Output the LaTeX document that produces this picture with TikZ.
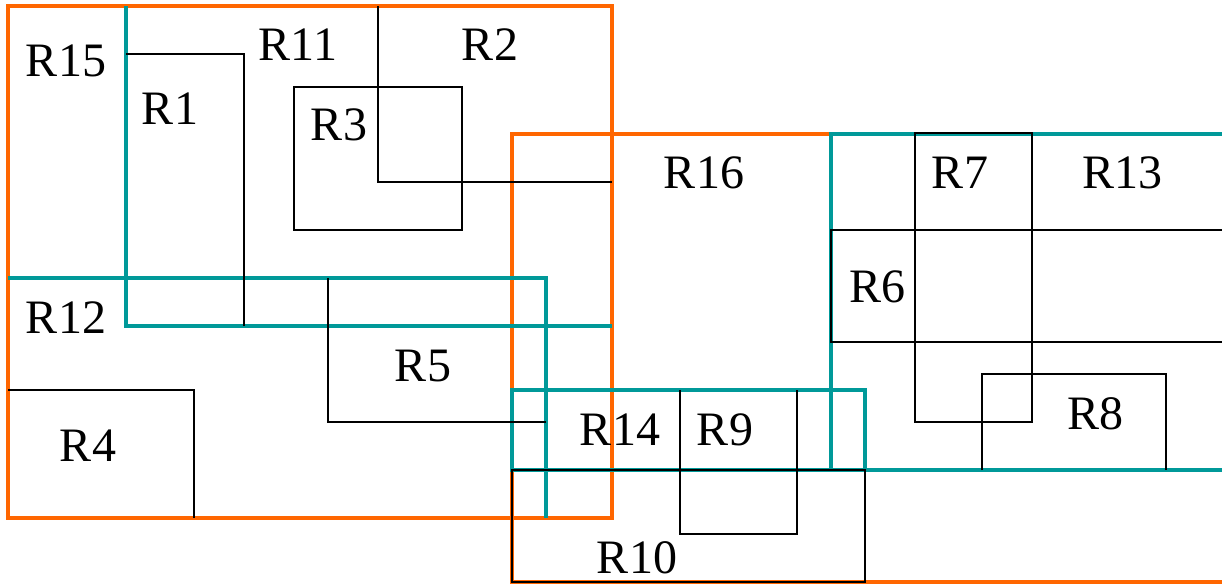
\documentclass[tikz,border=0pt]{standalone}
\usepackage{fontspec}
\setmainfont{Liberation Serif}
\definecolor{mborange}{RGB}{255,102,0}
\definecolor{mbteal}{RGB}{0,153,153}

\begin{document}
\begin{tikzpicture}[x=0.5pt, y=-0.5pt]
			\tikzstyle{every node}=[anchor=base, inner sep=0pt, font=\fontsize{24}{29}\selectfont]
			\tikzstyle{mbrA}=[draw=mborange, line width=2pt]
			\tikzstyle{mbrB}=[draw=mbteal, line width=1.8pt]
			\tikzstyle{leaf}=[draw=black, line width=1pt]
				\useasboundingbox (0,0) rectangle (1222,584);

				% outer bounding boxes
				\draw[mbrA] (8,6) rectangle (612,518);
				\draw[mbrA] (1240,582) -- (512,582) -- (512,134) -- (1240,134);

				% middle level
				\draw[mbrB] (126,6) -- (126,326) -- (612,326);
				\draw[mbrB] (8,278) -- (546,278) -- (546,518);
				\draw[mbrB] (1240,134) -- (831,134) -- (831,470) -- (1240,470);
				\draw[mbrB] (512,390) rectangle (865,470);

				% data rectangles
				\draw[leaf] (126,54) -- (244,54) -- (244,326);
				\draw[leaf] (378,6) -- (378,182) -- (612,182);
				\draw[leaf] (294,87) rectangle (462,230);
				\draw[leaf] (8,390) -- (194,390) -- (194,518);
				\draw[leaf] (328,278) -- (328,422) -- (546,422);
				\draw[leaf] (1240,230) -- (831,230) -- (831,342) -- (1240,342);
				\draw[leaf] (915,133) rectangle (1032,422);
				\draw[leaf] (982,470) -- (982,374) -- (1166,374) -- (1166,470);
				\draw[leaf] (680,390) -- (680,534) -- (797,534) -- (797,390);
				\draw[leaf] (512,470) rectangle (865,582);

				\node (r15) at (66,76) {R15};
				\node (r11) at (298,60) {R11};
				\node (r2) at (490,60) {R2};
				\node (r1) at (170,124) {R1};
				\node (r3) at (339,140) {R3};
				\node (r12) at (66,333) {R12};
				\node (r5) at (423,381) {R5};
				\node (r4) at (88,461) {R4};
				\node (r16) at (704,188) {R16};
				\node (r7) at (960,188) {R7};
				\node (r13) at (1122,188) {R13};
				\node (r6) at (877,302) {R6};
				\node (r8) at (1095,429) {R8};
				\node (r14) at (620,445) {R14};
				\node (r9) at (725,445) {R9};
				\node (r10) at (637,573) {R10};
			\end{tikzpicture}
\end{document}
